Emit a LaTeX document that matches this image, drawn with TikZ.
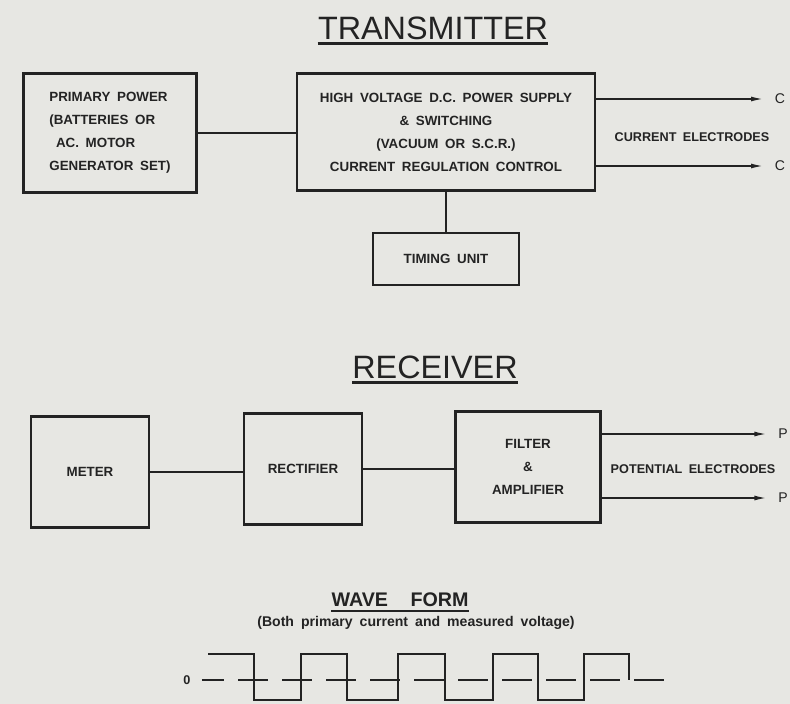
\documentclass[tikz,border=0pt]{standalone}
\usepackage{fontspec}
\setmainfont{Liberation Sans}[WordSpace=1.8]
\usetikzlibrary{arrows.meta}
\definecolor{paper}{RGB}{231,231,227}
\definecolor{ink}{RGB}{35,35,35}
\tikzset{blk/.style={draw=ink, line width=1.6pt, rectangle, inner sep=0pt, align=center,
  text=ink, font=\fontsize{9.5}{16.4}\selectfont\bfseries},
  wire/.style={draw=ink, line width=1.9pt},
  lead/.style={draw=ink, line width=1.2pt, -{Latex[length=9pt,width=3.5pt]}},
  ttl/.style={text=ink, font=\fontsize{23}{28}\selectfont, inner xsep=0pt, inner ysep=2.8pt},
  uline/.style={draw=ink, line width=1.7pt},
  lbl/.style={text=ink, font=\fontsize{9}{12}\selectfont\bfseries},
  term/.style={text=ink, font=\fontsize{10}{12}\selectfont, inner sep=0pt, outer xsep=8pt}}

\begin{document}
\begin{tikzpicture}[x=0.025cm, y=-0.025cm]
      \fill [paper] (0,0) rectangle (790,704);
      \useasboundingbox (0,0) rectangle (790,704);

      % transmitter
      \node [ttl] (tx) at (433,28) {TRANSMITTER};
      \draw [uline] (tx.south west) -- (tx.south east);

      \node [blk, minimum width=4.325cm, minimum height=2.975cm, align=left] (prim) at (110,133)
        {PRIMARY POWER\\(BATTERIES OR\\\ AC. MOTOR\\GENERATOR SET)};
      \node [blk, minimum width=7.45cm, minimum height=2.925cm] (hv) at (446,132)
        {HIGH VOLTAGE D.C. POWER SUPPLY\\\& SWITCHING\\(VACUUM OR S.C.R.)\\CURRENT REGULATION CONTROL};
      \node [blk, minimum width=3.65cm, minimum height=1.3cm] (tim) at (446,259) {TIMING UNIT};

      \node [term] (c1) at (780,99) {C};
      \node [term] (c2) at (780,166) {C};
      \node [lbl] (ce) at (692,137) {CURRENT ELECTRODES};

      \draw [wire] (prim.east) -- (prim.east -| hv.west);
      \draw [wire] (hv) -- (tim);
      \draw [lead] (hv.east |- c1) -- (c1);
      \draw [lead] (hv.east |- c2) -- (c2);

      % receiver
      \node [ttl] (rx) at (435,367) {RECEIVER};
      \draw [uline] (rx.south west) -- (rx.south east);

      \node [blk, minimum width=2.95cm, minimum height=2.775cm] (met) at (90,472) {METER};
      \node [blk, minimum width=2.95cm, minimum height=2.775cm] (rect) at (303,469) {RECTIFIER};
      \node [blk, minimum width=3.625cm, minimum height=2.775cm] (filt) at (528,467)
        {FILTER\\\&\\AMPLIFIER};

      \node [term] (p1) at (783,434) {P};
      \node [term] (p2) at (783,498) {P};
      \node [lbl] (pe) at (693,469) {POTENTIAL ELECTRODES};

      \draw [wire] (met.east) -- (met.east -| rect.west);
      \draw [wire] (rect.east) -- (rect.east -| filt.west);
      \draw [lead] (filt.east |- p1) -- (p1);
      \draw [lead] (filt.east |- p2) -- (p2);

      % wave form
      \node [ttl, font=\fontsize{14}{16}\selectfont\bfseries] (wf) at (400,600) {WAVE\hspace{16pt}FORM};
      \draw [uline, line width=1.4pt] (wf.south west) -- (wf.south east);
      \node [text=ink, font=\fontsize{10}{13}\selectfont\bfseries] (wn) at (416,623)
        {(Both primary current and measured voltage)};

      \node [text=ink, font=\fontsize{9}{11}\selectfont\bfseries, inner sep=0pt, outer xsep=8pt] (zl) at (187,680) {0};
      \draw [draw=ink, line width=1.4pt, dash pattern=on 21pt off 10.3pt, dash phase=5.5pt] (zl.east) -- (665,680);
      \draw [draw=ink, line width=1.4pt] (208,654) -| (254,700) -| (301,654) -| (347,700) -| (398,654)
        -| (445,700) -| (493,654) -| (538,700) -| (584,654) -| (629,680);
\end{tikzpicture}
\end{document}
